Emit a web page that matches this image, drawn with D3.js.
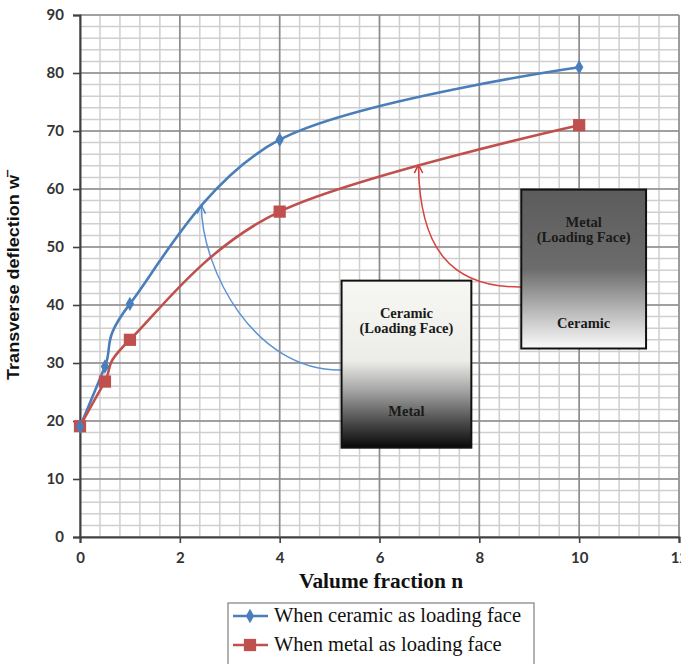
<!DOCTYPE html>
<html>
<head>
<meta charset="utf-8">
<script src="https://cdn.jsdelivr.net/npm/d3@7"></script>
<style>
  body { margin: 0; background: #fff; }
  svg { display: block; }
</style>
</head>
<body>
<script>
var width = 681;
var height = 664;

// data
var fractions = [0, 0.5, 1, 4, 10];
var ceramicFace = [19, 29.4, 40.2, 68.5, 81];
var metalFace = [19.1, 26.8, 34, 56.1, 71];
var seriesNames = ["When ceramic as loading face", "When metal as loading face"];
var xTicks = [0, 2, 4, 6, 8, 10, 12];
var yTicks = [0, 10, 20, 30, 40, 50, 60, 70, 80, 90];

var margin = {top: 15, right: 2, bottom: 127, left: 80};

var svg = d3.select("body")
    .append("svg")
    .attr("width", width)
    .attr("height", height);

var x = d3.scaleLinear().domain([0, 12]).range([margin.left, width - margin.right]);
var y = d3.scaleLinear().domain([0, 90]).range([height - margin.bottom, margin.top]);

// grid
var minorX = d3.range(0, 12.001, 0.4);
var minorY = d3.range(0, 90.001, 2);

svg.append("g").selectAll("line")
    .data(minorX)
    .enter().append("line")
    .attr("x1", function(d) { return x(d); })
    .attr("x2", function(d) { return x(d); })
    .attr("y1", y(0))
    .attr("y2", y(90))
    .attr("stroke", "#cfcfcf")
    .attr("stroke-width", 1.5);

svg.append("g").selectAll("line")
    .data(minorY)
    .enter().append("line")
    .attr("x1", x(0))
    .attr("x2", x(12))
    .attr("y1", function(d) { return y(d); })
    .attr("y2", function(d) { return y(d); })
    .attr("stroke", "#cfcfcf")
    .attr("stroke-width", 1.5);

svg.append("g").selectAll("line")
    .data(xTicks)
    .enter().append("line")
    .attr("x1", function(d) { return x(d); })
    .attr("x2", function(d) { return x(d); })
    .attr("y1", y(0))
    .attr("y2", y(90))
    .attr("stroke", "#8c8c8c")
    .attr("stroke-width", 1.6);

svg.append("g").selectAll("line")
    .data(yTicks)
    .enter().append("line")
    .attr("x1", x(0))
    .attr("x2", x(12))
    .attr("y1", function(d) { return y(d); })
    .attr("y2", function(d) { return y(d); })
    .attr("stroke", "#8c8c8c")
    .attr("stroke-width", 1.6);

// axes
var xAxis = svg.append("g")
    .attr("transform", "translate(0," + y(0) + ")")
    .call(d3.axisBottom(x).tickValues(xTicks).tickSize(6).tickPadding(9));
var yAxis = svg.append("g")
    .attr("transform", "translate(" + x(0) + ",0)")
    .call(d3.axisLeft(y).tickValues(yTicks).tickSize(7).tickPadding(9));

[xAxis, yAxis].forEach(function(a) {
    a.select(".domain").attr("stroke", "#404040").attr("stroke-width", 2);
    a.selectAll(".tick line").attr("stroke", "#404040").attr("stroke-width", 1.6);
    a.selectAll("text")
        .attr("font-family", "Lato, 'Open Sans', sans-serif")
        .attr("font-weight", "bold")
        .attr("font-size", "15px")
        .attr("fill", "#333");
});

// axis titles
svg.append("text")
    .attr("x", 381)
    .attr("y", 588)
    .attr("text-anchor", "middle")
    .attr("font-family", "'Liberation Serif', serif")
    .attr("font-weight", "bold")
    .attr("font-size", "20px")
    .attr("textLength", 164)
    .attr("lengthAdjust", "spacingAndGlyphs")
    .attr("fill", "#111")
    .text("Valume fraction n");

var yTitle = svg.append("text")
    .attr("transform", "translate(19,380) rotate(-90)")
    .attr("font-family", "'Liberation Sans', sans-serif")
    .attr("font-weight", "bold")
    .attr("font-size", "16px")
    .attr("fill", "#111");
yTitle.append("tspan")
    .attr("textLength", 205)
    .attr("lengthAdjust", "spacingAndGlyphs")
    .text("Transverse deflection w");
yTitle.append("tspan").attr("dy", -8).attr("dx", -2).attr("font-size", "13px").text("\u2012");

// annotation boxes (in data units)
var defs = svg.append("defs");

var g1 = defs.append("linearGradient").attr("id", "ceramicTop")
    .attr("x1", 0).attr("y1", 0).attr("x2", 0).attr("y2", 1);
g1.append("stop").attr("offset", "0%").attr("stop-color", "#f7f7f3");
g1.append("stop").attr("offset", "48%").attr("stop-color", "#ecece8");
g1.append("stop").attr("offset", "65%").attr("stop-color", "#a8a8a8");
g1.append("stop").attr("offset", "85%").attr("stop-color", "#4a4a4a");
g1.append("stop").attr("offset", "100%").attr("stop-color", "#080808");

var g2 = defs.append("linearGradient").attr("id", "metalTop")
    .attr("x1", 0).attr("y1", 0).attr("x2", 0).attr("y2", 1);
g2.append("stop").attr("offset", "0%").attr("stop-color", "#5c5c5c");
g2.append("stop").attr("offset", "50%").attr("stop-color", "#6c6c6c");
g2.append("stop").attr("offset", "75%").attr("stop-color", "#b4b4b4");
g2.append("stop").attr("offset", "100%").attr("stop-color", "#fbfbfb");

var boxes = [
    {x0: 5.24, x1: 7.84, y0: 44.2, y1: 15.4, fill: "url(#ceramicTop)",
     top: ["Ceramic", "(Loading Face)"], bottom: "Metal", bottomAt: 0.81},
    {x0: 8.84, x1: 11.34, y0: 59.9, y1: 32.5, fill: "url(#metalTop)",
     top: ["Metal", "(Loading Face)"], bottom: "Ceramic", bottomAt: 0.87}
];

// arrows
defs.append("marker").attr("id", "headBlue")
    .attr("viewBox", "0 0 10 10").attr("refX", 9).attr("refY", 5)
    .attr("markerWidth", 7).attr("markerHeight", 7).attr("orient", "auto")
    .append("path").attr("d", "M1,1 L9,5 L1,9").attr("fill", "none")
    .attr("stroke", "#4a86c8").attr("stroke-width", 1.4);
defs.append("marker").attr("id", "headRed")
    .attr("viewBox", "0 0 10 10").attr("refX", 9).attr("refY", 5)
    .attr("markerWidth", 7).attr("markerHeight", 7).attr("orient", "auto")
    .append("path").attr("d", "M1,1 L9,5 L1,9").attr("fill", "none")
    .attr("stroke", "#d0312d").attr("stroke-width", 1.4);

var arrows = [
    {from: [5.24, 28.8], c1: [3.5, 28.5], c2: [2.44, 46], to: [2.43, 57.2], color: "#5b93d3", head: "url(#headBlue)"},
    {from: [8.84, 43.1], c1: [7.4, 43.0], c2: [6.8, 50], to: [6.78, 64.2], color: "#d8423e", head: "url(#headRed)"}
];

svg.append("g").selectAll("path")
    .data(arrows)
    .enter().append("path")
    .attr("d", function(d) {
        return "M" + x(d.from[0]) + "," + y(d.from[1]) +
            " C" + x(d.c1[0]) + "," + y(d.c1[1]) +
            " " + x(d.c2[0]) + "," + y(d.c2[1]) +
            " " + x(d.to[0]) + "," + y(d.to[1]);
    })
    .attr("fill", "none")
    .attr("stroke", function(d) { return d.color; })
    .attr("stroke-width", 1.5)
    .attr("marker-end", function(d) { return d.head; });

// series lines
var series = [
    {name: seriesNames[0], values: ceramicFace, color: "#4a7ebb", shape: d3.symbolDiamond, size: 60},
    {name: seriesNames[1], values: metalFace, color: "#c0504d", shape: d3.symbolSquare, size: 150}
];

var line = d3.line()
    .x(function(d) { return x(d[0]); })
    .y(function(d) { return y(d[1]); })
    .curve(d3.curveCatmullRom.alpha(0));

series.forEach(function(s) {
    var pts = fractions.map(function(f, i) { return [f, s.values[i]]; });
    svg.append("path")
        .datum(pts)
        .attr("d", line)
        .attr("fill", "none")
        .attr("stroke", s.color)
        .attr("stroke-width", 2.6);
});

series.slice().reverse().forEach(function(s) {
    var pts = fractions.map(function(f, i) { return [f, s.values[i]]; });
    svg.append("g").selectAll("path")
        .data(pts)
        .enter().append("path")
        .attr("d", d3.symbol().type(s.shape).size(s.size))
        .attr("transform", function(d) { return "translate(" + x(d[0]) + "," + y(d[1]) + ")"; })
        .attr("fill", s.color);
});

// boxes drawn over the lines
var bg = svg.append("g").selectAll("g")
    .data(boxes)
    .enter().append("g");

bg.append("rect")
    .attr("x", function(d) { return x(d.x0); })
    .attr("y", function(d) { return y(d.y0); })
    .attr("width", function(d) { return x(d.x1) - x(d.x0); })
    .attr("height", function(d) { return y(d.y1) - y(d.y0); })
    .attr("fill", function(d) { return d.fill; })
    .attr("stroke", "#111")
    .attr("stroke-width", 2);

bg.each(function(d) {
    var cx = (x(d.x0) + x(d.x1)) / 2;
    var top = y(d.y0);
    var h = y(d.y1) - y(d.y0);
    var t = d3.select(this).append("text")
        .attr("text-anchor", "middle")
        .attr("font-family", "'Liberation Serif', serif")
        .attr("font-weight", "bold")
        .attr("font-size", "14.5px")
        .attr("fill", "#1a1a1a");
    t.append("tspan").attr("x", cx).attr("y", top + 37).text(d.top[0]);
    t.append("tspan").attr("x", cx).attr("y", top + 52).text(d.top[1]);
    d3.select(this).append("text")
        .attr("x", cx)
        .attr("y", top + h * d.bottomAt)
        .attr("text-anchor", "middle")
        .attr("font-family", "'Liberation Serif', serif")
        .attr("font-weight", "bold")
        .attr("font-size", "14.5px")
        .attr("fill", "#1a1a1a")
        .text(d.bottom);
});

// legend
var legend = svg.append("g").attr("transform", "translate(228,603)");
legend.append("rect")
    .attr("width", 306)
    .attr("height", 64)
    .attr("fill", "#fff")
    .attr("stroke", "#7f7f7f")
    .attr("stroke-width", 1.2);

var li = legend.selectAll(".item")
    .data(series)
    .enter().append("g")
    .attr("class", "item")
    .attr("transform", function(d, i) { return "translate(0," + (13 + i * 29) + ")"; });

li.append("line")
    .attr("x1", 5).attr("x2", 40)
    .attr("stroke", function(d) { return d.color; })
    .attr("stroke-width", 2.6);
li.append("path")
    .attr("d", function(d) { return d3.symbol().type(d.shape).size(d.size)(); })
    .attr("transform", "translate(22,0)")
    .attr("fill", function(d) { return d.color; });
li.append("text")
    .attr("x", 46)
    .attr("y", 6)
    .attr("font-family", "'Liberation Serif', serif")
    .attr("font-size", "20.5px")
    .attr("fill", "#111")
    .text(function(d) { return d.name; });
</script>
</body>
</html>
